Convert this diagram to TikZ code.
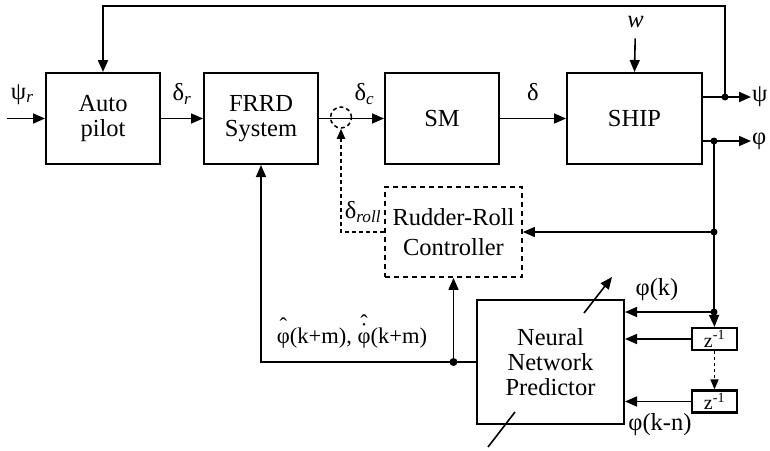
\documentclass[tikz,border=0pt]{standalone}
\usepackage{fontspec}
\setmainfont{Liberation Serif}
\usetikzlibrary{positioning}
\usetikzlibrary{arrows.meta}

% phi with a raised hat (and dot) set over it
\newcommand\phihat{\leavevmode\setbox0\hbox{φ}%
  \rlap{\hbox to\wd0{\hss\raisebox{10pt}{ˆ}\hss}}φ}
\newcommand\phihatdot{\leavevmode\setbox0\hbox{φ}%
  \rlap{\hbox to\wd0{\hss\raisebox{13pt}{ˆ}\hss}}%
  \rlap{\hbox to\wd0{\hss\raisebox{5pt}{˙}\hss}}φ}

\begin{document}
\begin{tikzpicture}[
  x=1pt, y=-1pt,
  font=\fontsize{24.5}{25}\selectfont,
  box/.style={draw, line width=2pt, align=center, minimum width=114pt, minimum height=91pt, inner sep=0pt},
  dbox/.style={draw, line width=1.8pt, dash pattern=on 5pt off 4pt, align=center, minimum width=137pt, minimum height=90pt, inner sep=0pt},
  zbox/.style={draw, line width=2.2pt, minimum width=45pt, minimum height=22pt, inner sep=0pt, font=\fontsize{20}{20}\selectfont},
  wire/.style={line width=1.6pt},
  arrow/.style={wire, -{Triangle[length=12pt,width=10pt]}},
  dashedarrow/.style={line width=1.8pt, dash pattern=on 4pt off 3pt, -{Triangle[length=10pt,width=8pt]}}
]
\useasboundingbox (0,0) rectangle (770,450);

% blocks of the steering loop
\node[box] (autopilot) at (103,118.5) {Auto\\pilot};
\node[box, right=42pt of autopilot] (frrd) {FRRD\\System};
\node[box, right=65pt of frrd] (sm) {SM};
\node[box, minimum width=135pt, right=66pt of sm] (ship) {SHIP};
\node[dbox] (rrc) at (453.5,232) {Rudder-Roll\\[5pt]Controller};
\node[box, minimum width=147pt, minimum height=124pt] (nnp) at (550.5,362) {Neural\\Network\\Predictor};
\node[zbox] (zone) at (714.5,339) {z\textsuperscript{-1}};
\node[zbox] (ztwo) at (714.5,401.5) {z\textsuperscript{-1}};
\node[circle, draw, line width=1.5pt, dash pattern=on 4pt off 3pt, minimum size=21pt, inner sep=0pt] (sw) at (341,117.5) {};

% signal names
\node[anchor=west, inner sep=1pt] (psi) at (751,97) {ψ};
\node[anchor=west, inner sep=1pt] (phi) at (751,141) {φ};
\node (w) at (635.5,22) {\textit{w}};
\node (drolllbl) at (363,212) {δ\textsubscript{\textit{roll}}};
\node (phik) at (657,290) {φ(k)};
\node (phikn) at (660,425) {φ(k-n)};
\node[anchor=base, font=\fontsize{22.5}{25}\selectfont] (phihatlbl) at (352,343) {\phihat(k+m), \phihatdot(k+m)};

% branch points
\coordinate (psiin) at (7,118.5);
\coordinate (topline) at (0,6);
\coordinate (psidot) at (725,97);
\coordinate (phidot) at (714,141);
\coordinate (rrdot) at (714,232);
\coordinate (nndot) at (714,312);
\coordinate (fbdot) at (453.5,362);
\coordinate (adapta) at (584,313);
\coordinate (adaptb) at (612,277);
\coordinate (adaptc) at (515,412);
\coordinate (adaptd) at (488,447);

% forward path
\draw[arrow] (psiin) -- node (psirlbl) [above=10pt, pos=0.4] {ψ\textsubscript{\textit{r}}} (autopilot);
\draw[arrow] (autopilot) -- node (drlbl) [above=10pt] {δ\textsubscript{\textit{r}}} (frrd);
\draw[arrow] (frrd) -- node (dclbl) [above=10pt, pos=0.7] {δ\textsubscript{\textit{c}}} (sm);
\draw[arrow] (sm) -- node (dlbl) [above=14pt] {δ} (ship);
\draw[arrow] (w) -- (ship.north) [shorten <=7pt];
\draw[arrow, line width=2pt] (ship.east |- psi) -- (psi.west);
\draw[arrow] (ship.east |- phi) -- (phi.west);

% heading feedback
\draw[arrow, line width=2pt] (psidot) |- (autopilot.north |- topline) -- (autopilot.north);

% roll measurement and predictor
\draw[wire] (phidot) -- (rrdot) -- (nndot);
\draw[arrow] (rrdot) -- (rrc.east);
\draw[arrow] (nndot) -- (nndot -| nnp.east);
\draw[arrow] (nndot) -- (zone.north);
\draw[arrow] (zone.west) -- (zone -| nnp.east);
\draw[arrow] (ztwo.west) -- (ztwo -| nnp.east);
\draw[dashedarrow, line width=1.5pt, dash pattern=on 3pt off 3pt] (zone.south) -- (ztwo.north);
\draw[arrow] (nnp.west) -| (frrd.south);
\draw[arrow] (fbdot) -- (rrc.south);
\draw[dashedarrow] (rrc.west) -| (sw.south);

% adaptation arrow across the predictor
\draw[arrow] (adapta) -- (adaptb);
\draw[wire] (adaptc) -- (adaptd);

\fill (psidot) circle (3.5pt) (phidot) circle (3.5pt) (rrdot) circle (3.5pt)
      (nndot) circle (3.5pt) (fbdot) circle (4pt);
\end{tikzpicture}
\end{document}
